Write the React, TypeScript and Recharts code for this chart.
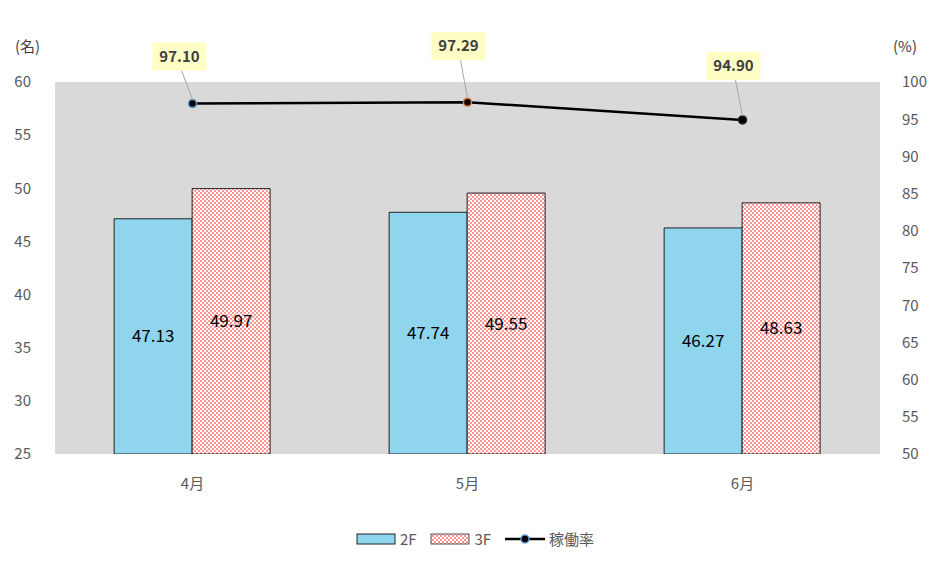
import { ComposedChart, Bar, Line, XAxis, YAxis, CartesianGrid, Legend, LabelList } from 'recharts'

const months = ['4月', '5月', '6月']
const floor2F = [47.13, 47.74, 46.27]
const floor3F = [49.97, 49.55, 48.63]
const operatingRate = [97.1, 97.29, 94.9]
const leftTicks = [25, 30, 35, 40, 45, 50, 55, 60]
const rightTicks = [50, 55, 60, 65, 70, 75, 80, 85, 90, 95, 100]

const data = months.map((m, i) => ({
  month: m,
  f2: floor2F[i],
  f3: floor3F[i],
  rate: operatingRate[i],
}))

// callout box offsets relative to each line point
const calloutOffsets = [
  { dx: -13, dy: -47 },
  { dx: -9, dy: -56 },
  { dx: -9, dy: -54 },
]
const markerRings = ['#5b9bd5', '#ed7d31', '#222']

const FONT = '"Noto Sans CJK JP", "Noto Sans", sans-serif'
const tickStyle = { fontSize: 15, fill: '#595959', fontFamily: FONT }

const RateDot = (props: any) => {
  const { cx, cy, index } = props
  if (cx == null || cy == null) return null
  return <circle cx={cx} cy={cy} r={4} fill="#000" stroke={markerRings[index]} strokeWidth={1.5} />
}

const Callout = (props: any) => {
  const { x, y, value, index } = props
  const off = calloutOffsets[index] || { dx: 0, dy: -50 }
  const bx = x + off.dx
  const by = y + off.dy
  const w = 54
  const h = 28
  return (
    <g>
      <line x1={bx + 2} y1={by + h / 2} x2={x} y2={y - 4} stroke="#a6a6a6" strokeWidth={1} />
      <rect x={bx - w / 2} y={by - h / 2} width={w} height={h} fill="#ffffc5" />
      <text x={bx} y={by + 1} textAnchor="middle" dominantBaseline="middle"
        style={{ fontSize: 15, fontWeight: 700, fill: '#404040', fontFamily: FONT }}>
        {Number(value).toFixed(2)}
      </text>
    </g>
  )
}

const LegendContent = () => (
  <div style={{ display: 'flex', justifyContent: 'center', alignItems: 'center', fontFamily: FONT, fontSize: 15, color: '#595959', gap: 14 }}>
    <span style={{ display: 'flex', alignItems: 'center', gap: 4 }}>
      <svg width={40} height={12}><rect x={1} y={1} width={38} height={10} fill="#8fd5ee" stroke="#222" /></svg>2F
    </span>
    <span style={{ display: 'flex', alignItems: 'center', gap: 4 }}>
      <svg width={40} height={12}><rect x={1} y={1} width={38} height={10} fill="url(#checker)" stroke="#555" /></svg>3F
    </span>
    <span style={{ display: 'flex', alignItems: 'center', gap: 4 }}>
      <svg width={40} height={12}>
        <line x1={0} y1={6} x2={40} y2={6} stroke="#000" strokeWidth={2.5} />
        <circle cx={20} cy={6} r={4} fill="#000" stroke="#5b9bd5" strokeWidth={1.5} />
      </svg>稼働率
    </span>
  </div>
)

export default function App() {
  return (
    <div style={{ position: 'relative', width: 950, height: 567, background: '#fff' }}>
      <style>{'body{margin:0}'}</style>
      <div style={{ position: 'absolute', left: 15, top: 35, fontFamily: FONT, fontSize: 15, color: '#404040' }}>(名)</div>
      <div style={{ position: 'absolute', left: 893, top: 35, fontFamily: FONT, fontSize: 15, color: '#404040' }}>(%)</div>
      <ComposedChart width={950} height={567} data={data}
        margin={{ top: 82, right: 0, bottom: 83, left: 0 }}
        barCategoryGap="21.5%" barGap={0}>
        <defs>
          <pattern id="checker" width={4} height={4} patternUnits="userSpaceOnUse">
            <rect width={4} height={4} fill="#fff" />
            <rect x={0} y={0} width={2} height={2} fill="#ff9494" />
            <rect x={2} y={2} width={2} height={2} fill="#ff9494" />
          </pattern>
        </defs>
        <CartesianGrid fill="#d9d9d9" horizontal={false} vertical={false} />
        <XAxis dataKey="month" height={30} axisLine={false} tickLine={false} tick={tickStyle} tickMargin={18} />
        <YAxis yAxisId="left" width={55} domain={[25, 60]} ticks={leftTicks} allowDataOverflow
          axisLine={false} tickLine={false} tick={tickStyle} tickMargin={18} interval={0} />
        <YAxis yAxisId="right" orientation="right" width={70} domain={[50, 100]} ticks={rightTicks}
          axisLine={false} tickLine={false} tick={{ ...tickStyle, textAnchor: 'start' }} tickMargin={16} interval={0} />
        <Bar yAxisId="left" dataKey="f2" name="2F" fill="#8fd5ee" stroke="#222" strokeWidth={1} isAnimationActive={false}>
          <LabelList dataKey="f2" position="center" formatter={(v: any) => Number(v).toFixed(2)}
            style={{ fontSize: 17, fill: '#000', fontFamily: FONT }} />
        </Bar>
        <Bar yAxisId="left" dataKey="f3" name="3F" fill="url(#checker)" stroke="#222" strokeWidth={1} isAnimationActive={false}>
          <LabelList dataKey="f3" position="center" formatter={(v: any) => Number(v).toFixed(2)}
            style={{ fontSize: 17, fill: '#000', fontFamily: FONT }} />
        </Bar>
        <Line yAxisId="right" dataKey="rate" name="稼働率" stroke="#000" strokeWidth={2.5} type="linear"
          dot={<RateDot />} activeDot={false} isAnimationActive={false}>
          <LabelList dataKey="rate" content={<Callout />} />
        </Line>
        <Legend layout="horizontal" verticalAlign="middle" align="center" content={<LegendContent />}
          wrapperStyle={{ top: 528, left: 0, width: 950 }} />
      </ComposedChart>
    </div>
  )
}
